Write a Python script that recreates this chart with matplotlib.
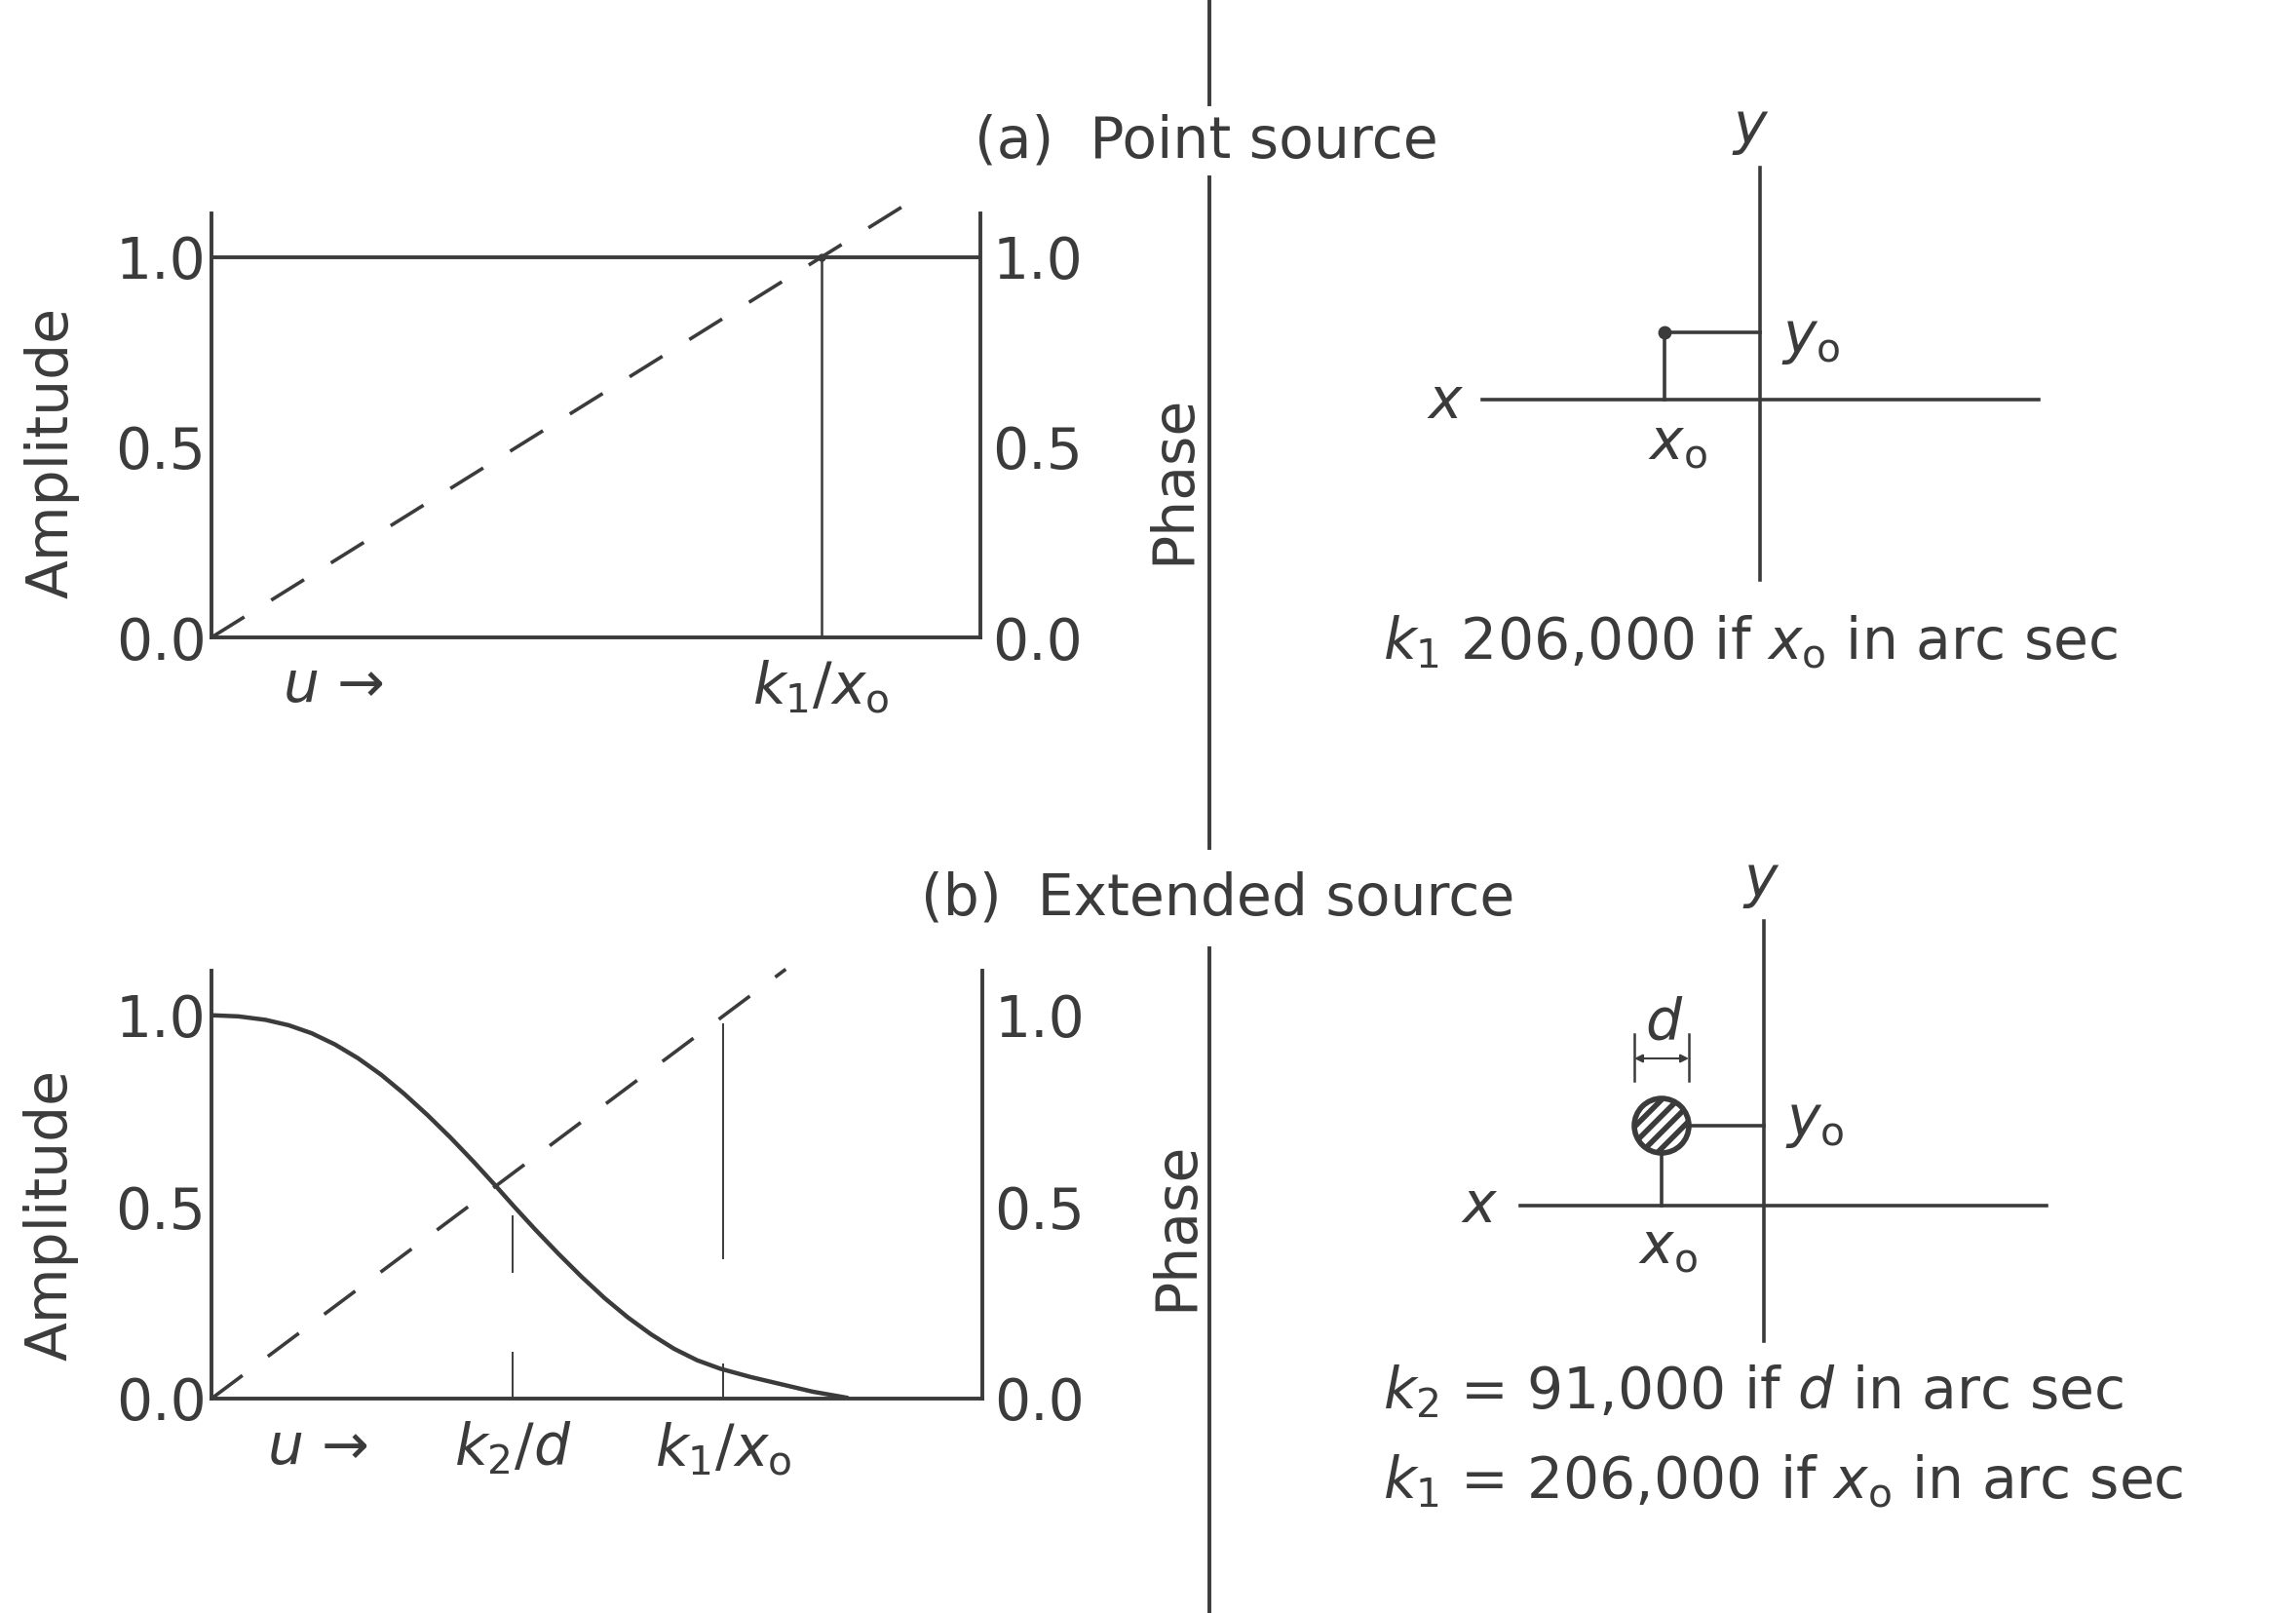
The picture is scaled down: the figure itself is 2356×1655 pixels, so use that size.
import matplotlib
matplotlib.use("Agg")
import matplotlib.pyplot as plt
from matplotlib.lines import Line2D
from matplotlib.patches import Circle

# ──────────────────────────────────────────────────────────────────────────
# Figure geometry (pixels) and style
# ──────────────────────────────────────────────────────────────────────────
W, H, DPI = 2356, 1655, 100
INK = "#3b3b3b"
FS = 42

plt.rcParams["font.family"] = ["DejaVu Sans"]
plt.rcParams["mathtext.fontset"] = "dejavusans"
plt.rcParams["hatch.linewidth"] = 4.0

# ──────────────────────────────────────────────────────────────────────────
# Data: u is given as a fraction of the plotted u range
# ──────────────────────────────────────────────────────────────────────────
amp_ticks = [0.0, 0.5, 1.0]
amp_labels = ["0.0", "0.5", "1.0"]

# (a) point source: flat amplitude, linear phase
point_u = [0.0, 1.0]
point_amp = [1.0, 1.0]
point_k1 = 0.793
point_phase_u = [0.0, 0.90]
point_phase = [0.0, 1.135]
point_xticks = [0.158, point_k1]
point_xlabels = [r"$u$ →", r"$k_1/x_\mathrm{o}$"]

# (b) extended source: amplitude curve traced point by point
ext_u = [0.0, 0.035, 0.07, 0.10, 0.13, 0.16, 0.19, 0.22, 0.25, 0.28,
         0.31, 0.34, 0.37, 0.393, 0.42, 0.45, 0.48, 0.51, 0.54, 0.57,
         0.60, 0.63, 0.66, 0.70, 0.74, 0.78, 0.825]
ext_amp = [1.0, 0.997, 0.988, 0.974, 0.953, 0.924, 0.888, 0.845, 0.795,
           0.740, 0.681, 0.618, 0.552, 0.500, 0.441, 0.378, 0.318, 0.262,
           0.212, 0.168, 0.130, 0.100, 0.078, 0.056, 0.037, 0.018, 0.002]
ext_k2 = 0.391
ext_k1 = 0.664
ext_k2_segments = [(0.0, 0.12), (0.33, 0.475)]
ext_k1_segments = [(0.0, 0.09), (0.365, 0.977)]
ext_phase_u = [0.0, 0.745]
ext_phase = [0.0, 1.12]
ext_xticks = [0.137, ext_k2, ext_k1]
ext_xlabels = [r"$u$ →", r"$k_2/d$", r"$k_1/x_\mathrm{o}$"]

# sky-plane sketches (units of 100 px)
sky_a_x = [-2.85, 2.86]
sky_a_y = [-1.85, 2.38]
src_a = (-0.98, 0.69)

sky_b_x = [-2.50, 2.90]
sky_b_y = [-1.39, 2.92]
src_b = (-1.05, 0.82)
src_b_radius = 0.28


def px_axes(fig, left, top, right, bottom):
    """Add an axes whose box is given in figure pixels (origin top-left)."""
    return fig.add_axes([left / W, 1 - bottom / H,
                         (right - left) / W, (bottom - top) / H])


def transform_panel(ax, xticks, xlabels, xpad, amp_label_y, phase_label_y):
    ax.set_xlim(0, 1)
    ax.set_ylim(0, 1.2)
    for side in ("top", "right"):
        ax.spines[side].set_visible(False)
    for side in ("left", "bottom"):
        ax.spines[side].set_color(INK)
        ax.spines[side].set_linewidth(2.8)
    ax.spines["left"].set_bounds(0, 1.115)
    ax.set_yticks(amp_ticks, amp_labels)
    ax.set_xticks(xticks, xlabels)
    ax.tick_params(axis="y", length=0, pad=4, labelsize=FS, labelcolor=INK)
    ax.tick_params(axis="x", length=0, pad=xpad, labelsize=FS, labelcolor=INK)
    ax.patch.set_alpha(0)

    ph = ax.twinx()
    ph.set_ylim(0, 1.2)
    for side in ("top", "left", "bottom"):
        ph.spines[side].set_visible(False)
    ph.spines["right"].set_color(INK)
    ph.spines["right"].set_linewidth(2.8)
    ph.spines["right"].set_bounds(0, 1.115)
    ph.set_yticks(amp_ticks, amp_labels)
    ph.tick_params(axis="y", length=0, pad=9, labelsize=FS, labelcolor=INK)

    ax.text(-0.208, amp_label_y, "Amplitude", rotation=90, ha="center",
            va="center", fontsize=FS, color=INK, transform=ax.transAxes)
    ax.text(1.251, phase_label_y, "Phase", rotation=90, ha="center",
            va="center", fontsize=FS, color=INK, transform=ax.transAxes)
    return ph


def sky_axes(fig, ox, oy, xr, yr):
    """Axes centred on pixel (ox, oy), 100 px per unit."""
    ax = px_axes(fig, ox + 100 * xr[0], oy - 100 * yr[1],
                 ox + 100 * xr[1], oy - 100 * yr[0])
    ax.set_xlim(*xr)
    ax.set_ylim(*yr)
    ax.axis("off")
    return ax


fig = plt.figure(figsize=(W / DPI, H / DPI), dpi=DPI)
fig.patch.set_facecolor("white")

dash = (0, (11, 9))

# ── (a) Point source ─────────────────────────────────────────────────────
ax_a = px_axes(fig, 217, 186, 1006, 654)
transform_panel(ax_a, point_xticks, point_xlabels, 15, 0.406, 0.346)
ax_a.plot(point_u, point_amp, color=INK, lw=2.8, solid_capstyle="butt")
ax_a.plot([point_k1, point_k1], [0, 1.0], color=INK, lw=1.8)
ax_a.plot(point_phase_u, point_phase, color=INK, lw=2.6, ls=dash,
          clip_on=False)
ax_a.plot([point_k1], [1.0], "o", color=INK, ms=5)

# ── (b) Extended source ──────────────────────────────────────────────────
ax_b = px_axes(fig, 217, 963, 1008, 1435)
transform_panel(ax_b, ext_xticks, ext_xlabels, 16, 0.40, 0.375)
ax_b.plot(ext_u, ext_amp, color=INK, lw=3.2, solid_capstyle="round",
          solid_joinstyle="round")
for lo, hi in ext_k2_segments:
    ax_b.plot([ext_k2, ext_k2], [lo, hi], color=INK, lw=1.4)
for lo, hi in ext_k1_segments:
    ax_b.plot([ext_k1, ext_k1], [lo, hi], color=INK, lw=1.4)
ax_b.plot(ext_phase_u, ext_phase, color=INK, lw=2.6, ls=dash, clip_on=False)

# ── Panel titles and the column divider ──────────────────────────────────
fig.text(1238 / W, 1 - 145 / H, "(a)  Point source", ha="center",
         va="center", fontsize=FS, color=INK)
fig.text(1250 / W, 1 - 922 / H, "(b)  Extended source", ha="center",
         va="center", fontsize=FS, color=INK)
for top, bottom in [(0, 107), (182, 870), (973, 1655)]:
    fig.add_artist(Line2D([1241 / W, 1241 / W], [1 - top / H, 1 - bottom / H],
                          color=INK, lw=2.8))

# ── Sky plane, point source ──────────────────────────────────────────────
sa = sky_axes(fig, 1806, 410, (-3.3, 3.3), (-2.6, 2.6))
sa.plot(sky_a_x, [0, 0], color=INK, lw=2.6)
sa.plot([0, 0], sky_a_y, color=INK, lw=2.6)
sa.plot([src_a[0], 0], [src_a[1], src_a[1]], color=INK, lw=2.6)
sa.plot([src_a[0], src_a[0]], [0, src_a[1]], color=INK, lw=2.6)
sa.plot([src_a[0]], [src_a[1]], "o", color=INK, ms=9)
sa.text(-0.10, 2.77, "$y$", ha="center", va="center", fontsize=FS, color=INK)
sa.text(-3.23, -0.03, "$x$", ha="center", va="center", fontsize=FS, color=INK)
sa.text(0.22, 0.62, r"$y_\mathrm{o}$", ha="left", va="center", fontsize=FS,
        color=INK)
sa.text(src_a[0] + 0.13, -0.45, r"$x_\mathrm{o}$", ha="center", va="center",
        fontsize=FS, color=INK)
sa.text(-3.87, -2.49, r"$k_1$ 206,000 if $x_\mathrm{o}$ in arc sec",
        ha="left", va="center", fontsize=FS, color=INK)

# ── Sky plane, extended source ───────────────────────────────────────────
sb = sky_axes(fig, 1810, 1237, (-3.3, 3.3), (-3.0, 3.2))
sb.plot(sky_b_x, [0, 0], color=INK, lw=2.6)
sb.plot([0, 0], sky_b_y, color=INK, lw=2.6)
sb.plot([src_b[0] + src_b_radius, 0], [src_b[1], src_b[1]], color=INK, lw=2.6)
sb.plot([src_b[0], src_b[0]], [0, src_b[1] - src_b_radius], color=INK, lw=2.6)
sb.add_patch(Circle(src_b, src_b_radius, facecolor="white", edgecolor=INK,
                    hatch="//", lw=4))
# diameter marker above the disc
d_lo, d_hi = src_b[0] - src_b_radius, src_b[0] + src_b_radius
for xx in (d_lo, d_hi):
    sb.plot([xx, xx], [1.28, 1.76], color=INK, lw=1.8)
sb.annotate("", xy=(d_hi, 1.51), xytext=(d_lo, 1.51),
            arrowprops=dict(arrowstyle="<|-|>", color=INK, lw=1.5,
                            mutation_scale=12, shrinkA=0, shrinkB=0))
sb.text(src_b[0] + 0.03, 1.87, "$d$", ha="center", va="center", fontsize=FS,
        color=INK)
sb.text(-0.03, 3.31, "$y$", ha="center", va="center", fontsize=FS, color=INK)
sb.text(-2.92, 0.0, "$x$", ha="center", va="center", fontsize=FS, color=INK)
sb.text(0.22, 0.85, r"$y_\mathrm{o}$", ha="left", va="center", fontsize=FS,
        color=INK)
sb.text(src_b[0] + 0.06, -0.43, r"$x_\mathrm{o}$", ha="center", va="center",
        fontsize=FS, color=INK)
sb.text(-3.91, -1.91, r"$k_2$ = 91,000 if $d$ in arc sec", ha="left",
        va="center", fontsize=FS, color=INK)
sb.text(-3.91, -2.83, r"$k_1$ = 206,000 if $x_\mathrm{o}$ in arc sec",
        ha="left", va="center", fontsize=FS, color=INK)

fig.savefig("out.png", dpi=DPI, facecolor="white")
